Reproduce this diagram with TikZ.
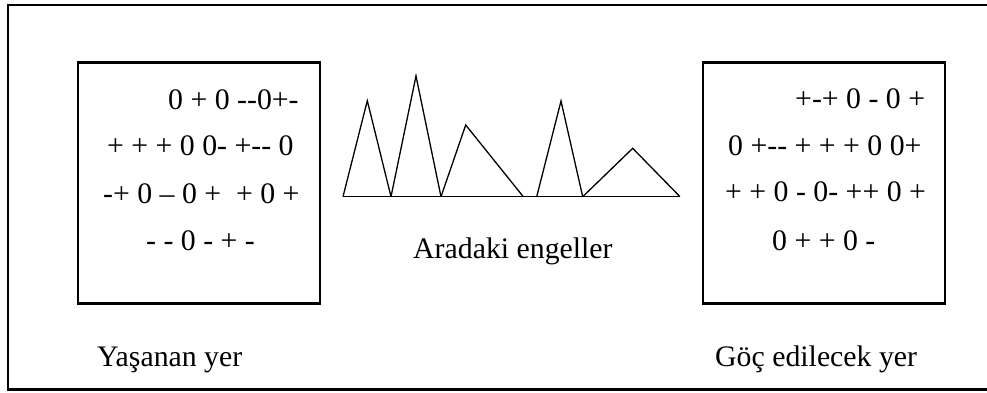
\documentclass[tikz,border=0pt]{standalone}
\usepackage{fontspec}
\setmainfont{Liberation Serif}[Ligatures=TeXOff]
\begin{document}
\begin{tikzpicture}[x=1pt,y=-1pt,
  frame/.style={draw=black,line width=2.2pt},
  place/.style={draw=black,line width=2.8pt,minimum width=242pt,minimum height=241pt,inner sep=0pt},
  row/.style={anchor=base west,inner sep=0pt,font=\fontsize{29.8}{34}\selectfont},
  caption/.style={anchor=base west,inner sep=0pt,font=\fontsize{29.8}{34}\selectfont},
  obstacle/.style={draw=black,line width=1.3pt,line join=miter}]
\useasboundingbox (0,0) rectangle (987,392);
\begin{scope}
\clip (0,0) rectangle (987,392);
\draw[frame] (8,5) rectangle (1000,389.5);
\end{scope}
% boxes
\node[place] (live) at (199,183) {};
\node[place] (target) at (824,183) {};
% left box rows
\node[row] (l1) at (168,109.3) {0 + 0 -{}-0+-};
\node[row] (l2) at (107,155) {+ + + 0 0- +-{}- 0};
\node[row] (l3) at (103,203.3) {-+ 0 – 0 +\hspace{0.25em} + 0 +};
\node[row] (l4) at (146,250) {- - 0 - + -};
% right box rows
\node[row] (r1) at (795,108.3) {+-+ 0 - 0 +};
\node[row] (r2) at (728,155.7) {0 +-{}- + + + 0 0+};
\node[row] (r3) at (725,201.7) {+ + 0 - 0- ++ 0 +};
\node[row] (r4) at (772,250) {0 + + 0 -};
% obstacles
\coordinate (b0) at (343,196.7);
\coordinate (b1) at (391,196.7);
\coordinate (b2) at (441,196.7);
\coordinate (b3) at (523.3,196.7);
\coordinate (b4) at (536.7,196.7);
\coordinate (b5) at (582.7,196.7);
\coordinate (b6) at (680,196.7);
\draw[obstacle] (b0) -- (b6);
\draw[obstacle] (b0) -- (367.3,100.7) -- (b1);
\draw[obstacle] (b1) -- (416,76) -- (b2);
\draw[obstacle] (b2) -- (465.7,125) -- (b3);
\draw[obstacle] (b4) -- (561,101) -- (b5);
\draw[obstacle] (b5) -- (632.7,148.3) -- (b6);
% captions
\node[caption] (between) at (413,258) {Aradaki engeller};
\node[caption] (livecap) at (97,366) {Yaşanan yer};
\node[caption] (targetcap) at (715,366) {Göç edilecek yer};
\end{tikzpicture}
\end{document}
